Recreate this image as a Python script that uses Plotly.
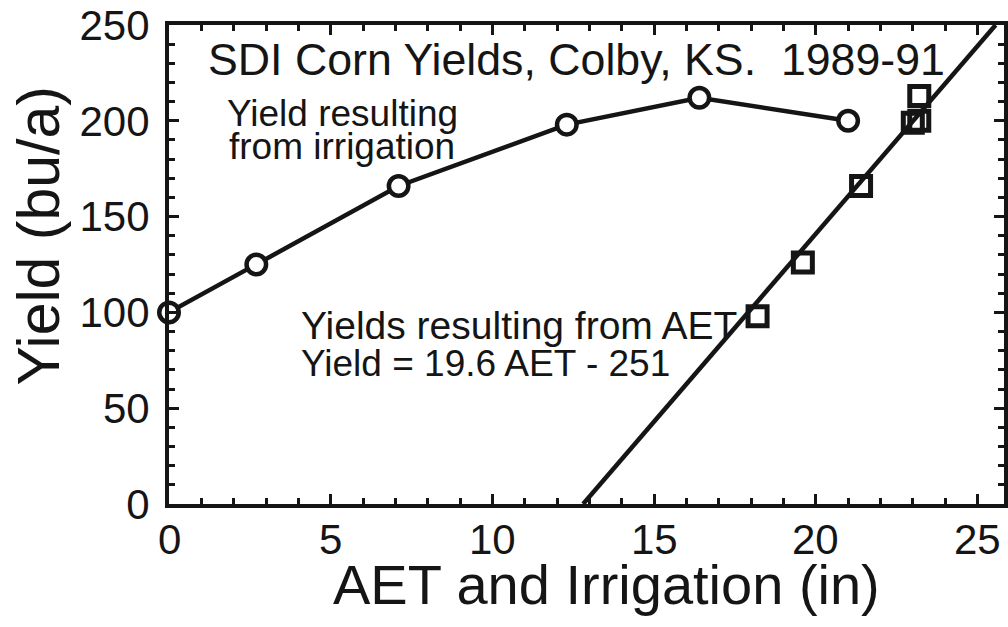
import plotly.graph_objects as go

# ---------------- data ----------------
irr_in = [0, 2.7, 7.1, 12.3, 16.4, 21.0]          # irrigation (in)
irr_yield = [100, 125, 166, 198, 212, 200]        # yield (bu/a)

aet_in = [18.2, 19.6, 21.4, 23.0, 23.2, 23.2]      # AET (in)
aet_yield = [98, 126, 166, 199, 213, 200]          # yield (bu/a)

fit_slope = 19.6       # Yield = 19.6 AET - 251
fit_intercept = -251

x_ticks = [0, 5, 10, 15, 20, 25]
y_ticks = [0, 50, 100, 150, 200, 250]
x_range = [0, 25.82]
y_range = [0, 250]

# regression line between the bottom and top of the frame
fit_x = [(y_range[0] - fit_intercept) / fit_slope, (y_range[1] - fit_intercept) / fit_slope]
fit_y = [fit_slope * v + fit_intercept for v in fit_x]

# ---------------- layout helpers ----------------
W, H = 1008, 627
L, R, T, B = 169, 0, 25, 123
INK = "#151515"
FONT = "Liberation Sans, Arial, Helvetica, sans-serif"


def pxx(xp):
    return (xp - L) / (W - L - R)


def pxy(yp):
    return (H - B - yp) / (H - T - B)


fig = go.Figure()

fig.add_trace(go.Scatter(
    x=fit_x, y=fit_y, mode="lines",
    line=dict(color=INK, width=4.5), showlegend=False, hoverinfo="skip",
))
fig.add_trace(go.Scatter(
    x=aet_in, y=aet_yield, mode="markers",
    marker=dict(symbol="square-open", size=19, color=INK, line=dict(width=5, color=INK)),
    showlegend=False, cliponaxis=False,
))
fig.add_trace(go.Scatter(
    x=irr_in, y=irr_yield, mode="lines+markers",
    line=dict(color=INK, width=4.5),
    marker=dict(symbol="circle", size=19.5, color="white", line=dict(width=4.5, color=INK)),
    showlegend=False, cliponaxis=False,
))

axis_common = dict(
    showline=True, linewidth=4, linecolor=INK, mirror="ticks",
    ticks="inside", ticklen=10, tickwidth=3, tickcolor=INK,
    showgrid=False, zeroline=False,
    tickfont=dict(family=FONT, size=42, color=INK),
)

fig.update_xaxes(
    range=x_range, tickvals=x_ticks, showticklabels=False,
    minor=dict(ticks="inside", ticklen=6, tickwidth=2.5, tickcolor=INK, dtick=1, showgrid=False),
    **axis_common,
)
fig.update_yaxes(
    range=y_range, tickvals=y_ticks, ticktext=[str(v) for v in y_ticks],
    minor=dict(ticks="inside", ticklen=6, tickwidth=2.5, tickcolor=INK, dtick=10, showgrid=False),
    ticklabelstandoff=7,
    **axis_common,
)

# x tick labels placed on the x axis scale
for v in x_ticks:
    fig.add_annotation(
        text=str(v), x=v, y=0, xref="x", yref="paper",
        xanchor="center", yanchor="middle", yshift=-35, showarrow=False,
        font=dict(family=FONT, size=42, color=INK),
    )

annos = [
    dict(text="SDI Corn Yields, Colby, KS.  1989-91", x=pxx(206), y=pxy(60), size=44.7,
         xanchor="left", yanchor="middle"),
    dict(text="Yield resulting", x=pxx(225), y=pxy(114), size=37,
         xanchor="left", yanchor="middle"),
    dict(text="from irrigation", x=pxx(227), y=pxy(146), size=37,
         xanchor="left", yanchor="middle"),
    dict(text="Yields resulting from AET", x=pxx(300), y=pxy(325), size=39,
         xanchor="left", yanchor="middle"),
    dict(text="Yield = 19.6 AET - 251", x=pxx(300), y=pxy(363), size=37,
         xanchor="left", yanchor="middle"),
    dict(text="AET and Irrigation (in)", x=pxx(609), y=pxy(584), size=56,
         xanchor="center", yanchor="middle"),
]
for a in annos:
    fig.add_annotation(
        text=a["text"], x=a["x"], y=a["y"], xref="paper", yref="paper",
        xanchor=a["xanchor"], yanchor=a["yanchor"], align="left", showarrow=False,
        font=dict(family=FONT, size=a["size"], color=INK),
    )

fig.add_annotation(
    text="Yield (bu/a)", x=pxx(38), y=pxy(236), xref="paper", yref="paper",
    xanchor="center", yanchor="middle", textangle=-90, showarrow=False,
    font=dict(family=FONT, size=59, color=INK),
)

fig.update_layout(
    width=W, height=H,
    margin=dict(l=L, r=R, t=T, b=B, pad=0),
    paper_bgcolor="white", plot_bgcolor="white",
    font=dict(family=FONT, color=INK),
    showlegend=False,
)

fig.write_html(
    "out.html",
    config={"displayModeBar": False},
    post_script="document.body.style.margin='0px';document.body.style.padding='0px';",
)
